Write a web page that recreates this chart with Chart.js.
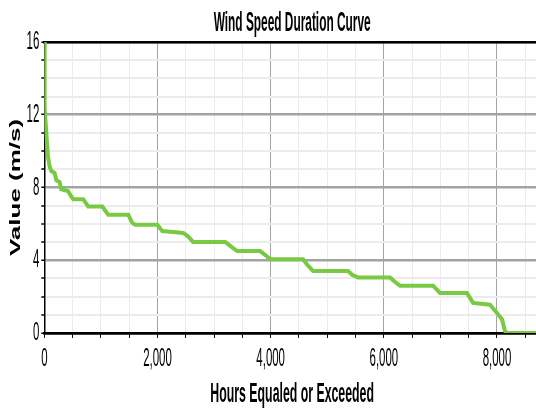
<!DOCTYPE html>
<html>
<head>
<meta charset="utf-8">
<script src="https://cdn.jsdelivr.net/npm/chart.js@4/dist/chart.umd.min.js"></script>
<style>
  html, body { margin: 0; padding: 0; background: #fff; overflow: hidden; }
  canvas { display: block; }
</style>
</head>
<body>
<canvas id="chart" width="540" height="408"></canvas>
<script>
// duration curve (hours equaled or exceeded, m/s)
const hours = [0, 5, 35, 65, 94, 124, 182, 212, 270, 300, 419, 477, 512, 689, 777, 1024, 1130, 1483,
  1554, 1607, 1996, 2084, 2455, 2543, 2631, 3196, 3320, 3408, 3815, 3938, 3991, 4574, 4645, 4750,
  5369, 5439, 5545, 6110, 6199, 6287, 6870, 6993, 7470, 7576, 7876, 8000, 8088, 8141, 8177, 8760];
const speeds = [16, 12.4, 11, 9.7, 9.15, 8.9, 8.8, 8.4, 8.3, 7.9, 7.8, 7.5, 7.35, 7.35, 6.95, 6.95, 6.5, 6.5,
  6.05, 5.95, 5.95, 5.6, 5.5, 5.3, 5.0, 5.0, 4.7, 4.5, 4.5, 4.2, 4.05, 4.05, 3.75, 3.4,
  3.4, 3.2, 3.05, 3.05, 2.8, 2.6, 2.6, 2.2, 2.2, 1.65, 1.55, 1.1, 0.75, 0.1, 0, 0];
const xTickValues = [0, 500, 1000, 1500, 2000, 2500, 3000, 3500, 4000, 4500, 5000, 5500, 6000, 6500,
  7000, 7500, 8000, 8500];
const xLabelValues = [0, 2000, 4000, 6000, 8000];
const yLabelValues = [0, 4, 8, 12, 16];

// the source image is squashed sideways, so squeeze the text the same way
const TEXT_SQUEEZE = 0.44;
const ROTATED_SQUEEZE = 0.55;
const proto = CanvasRenderingContext2D.prototype;
const rawFillText = proto.fillText;
const rawMeasureText = proto.measureText;
proto.fillText = function (text, x, y) {
  const rotated = Math.abs(this.getTransform().b) > 0.5;
  this.save();
  this.translate(x, y);
  if (rotated) this.scale(1, ROTATED_SQUEEZE);
  else this.scale(TEXT_SQUEEZE, 1);
  rawFillText.call(this, text, 0, 0);
  this.restore();
};
proto.measureText = function (text) {
  const m = rawMeasureText.call(this, text);
  return {
    width: m.width * TEXT_SQUEEZE,
    actualBoundingBoxAscent: m.actualBoundingBoxAscent,
    actualBoundingBoxDescent: m.actualBoundingBoxDescent,
  };
};

Chart.defaults.font.family = "'Liberation Sans', Arial, sans-serif";
Chart.defaults.color = "#000";

const points = hours.map((h, i) => ({ x: h, y: speeds[i] }));

new Chart(document.getElementById("chart"), {
  type: "line",
  data: {
    datasets: [{
      data: points,
      borderColor: "#7ac943",
      borderWidth: 4,
      pointRadius: 0,
      tension: 0,
      fill: false,
    }],
  },
  options: {
    responsive: false,
    animation: false,
    layout: { padding: 0 },
    plugins: { legend: { display: false }, tooltip: { enabled: false } },
    scales: {
      x: {
        type: "linear",
        position: "bottom",
        min: 0,
        max: 8760,
        // chart.js rescales big step sizes when min/max are fixed, so set the ticks directly
        afterBuildTicks: (scale) => {
          scale.ticks = xTickValues.map((v) => ({ value: v }));
        },
        ticks: {
          autoSkip: false,
          maxRotation: 0,
          padding: 10,
          font: { size: 26, lineHeight: 0.85 },
          callback: (v) => (xLabelValues.includes(v) ? v.toLocaleString("en-US") : ""),
        },
        grid: {
          color: (c) => (c.tick.value === 0 ? "#000" : xLabelValues.includes(c.tick.value) ? "#a3a3a3" : "#ececec"),
          lineWidth: 1,
          tickColor: "#000",
          tickLength: 5,
        },
        border: { color: "#000", width: 2.5 },
        title: {
          display: true,
          text: "Hours Equaled or Exceeded",
          font: { size: 28, weight: "bold", lineHeight: 1 },
          padding: { top: 0, bottom: 0 },
        },
      },
      top: {
        type: "linear",
        position: "top",
        min: 0,
        max: 1,
        ticks: { display: false },
        grid: { display: false, drawTicks: false },
        border: { color: "#000", width: 2.5 },
        title: {
          display: true,
          text: "Wind Speed Duration Curve",
          font: { size: 27, weight: "bold", lineHeight: 1 },
          padding: { top: 10, bottom: 5 },
        },
      },
      y: {
        min: 0,
        max: 16,
        ticks: {
          stepSize: 1,
          autoSkip: false,
          padding: 2,
          font: { size: 26, lineHeight: 1 },
          callback: (v) => (yLabelValues.includes(v) ? v : ""),
        },
        grid: {
          color: (c) => (c.tick.value === 0 ? "#000" : yLabelValues.includes(c.tick.value) ? "#a3a3a3" : "#ececec"),
          lineWidth: (c) => (yLabelValues.includes(c.tick.value) ? 2.5 : 2),
          tickColor: "#000",
          tickLength: 3,
          tickWidth: 1.5,
        },
        border: { color: "#000", width: 1.5 },
        title: {
          display: true,
          text: "Value (m/s)",
          font: { size: 26, weight: "bold", lineHeight: 0.6 },
          padding: { top: 8, bottom: 1 },
        },
      },
    },
  },
});
</script>
</body>
</html>
